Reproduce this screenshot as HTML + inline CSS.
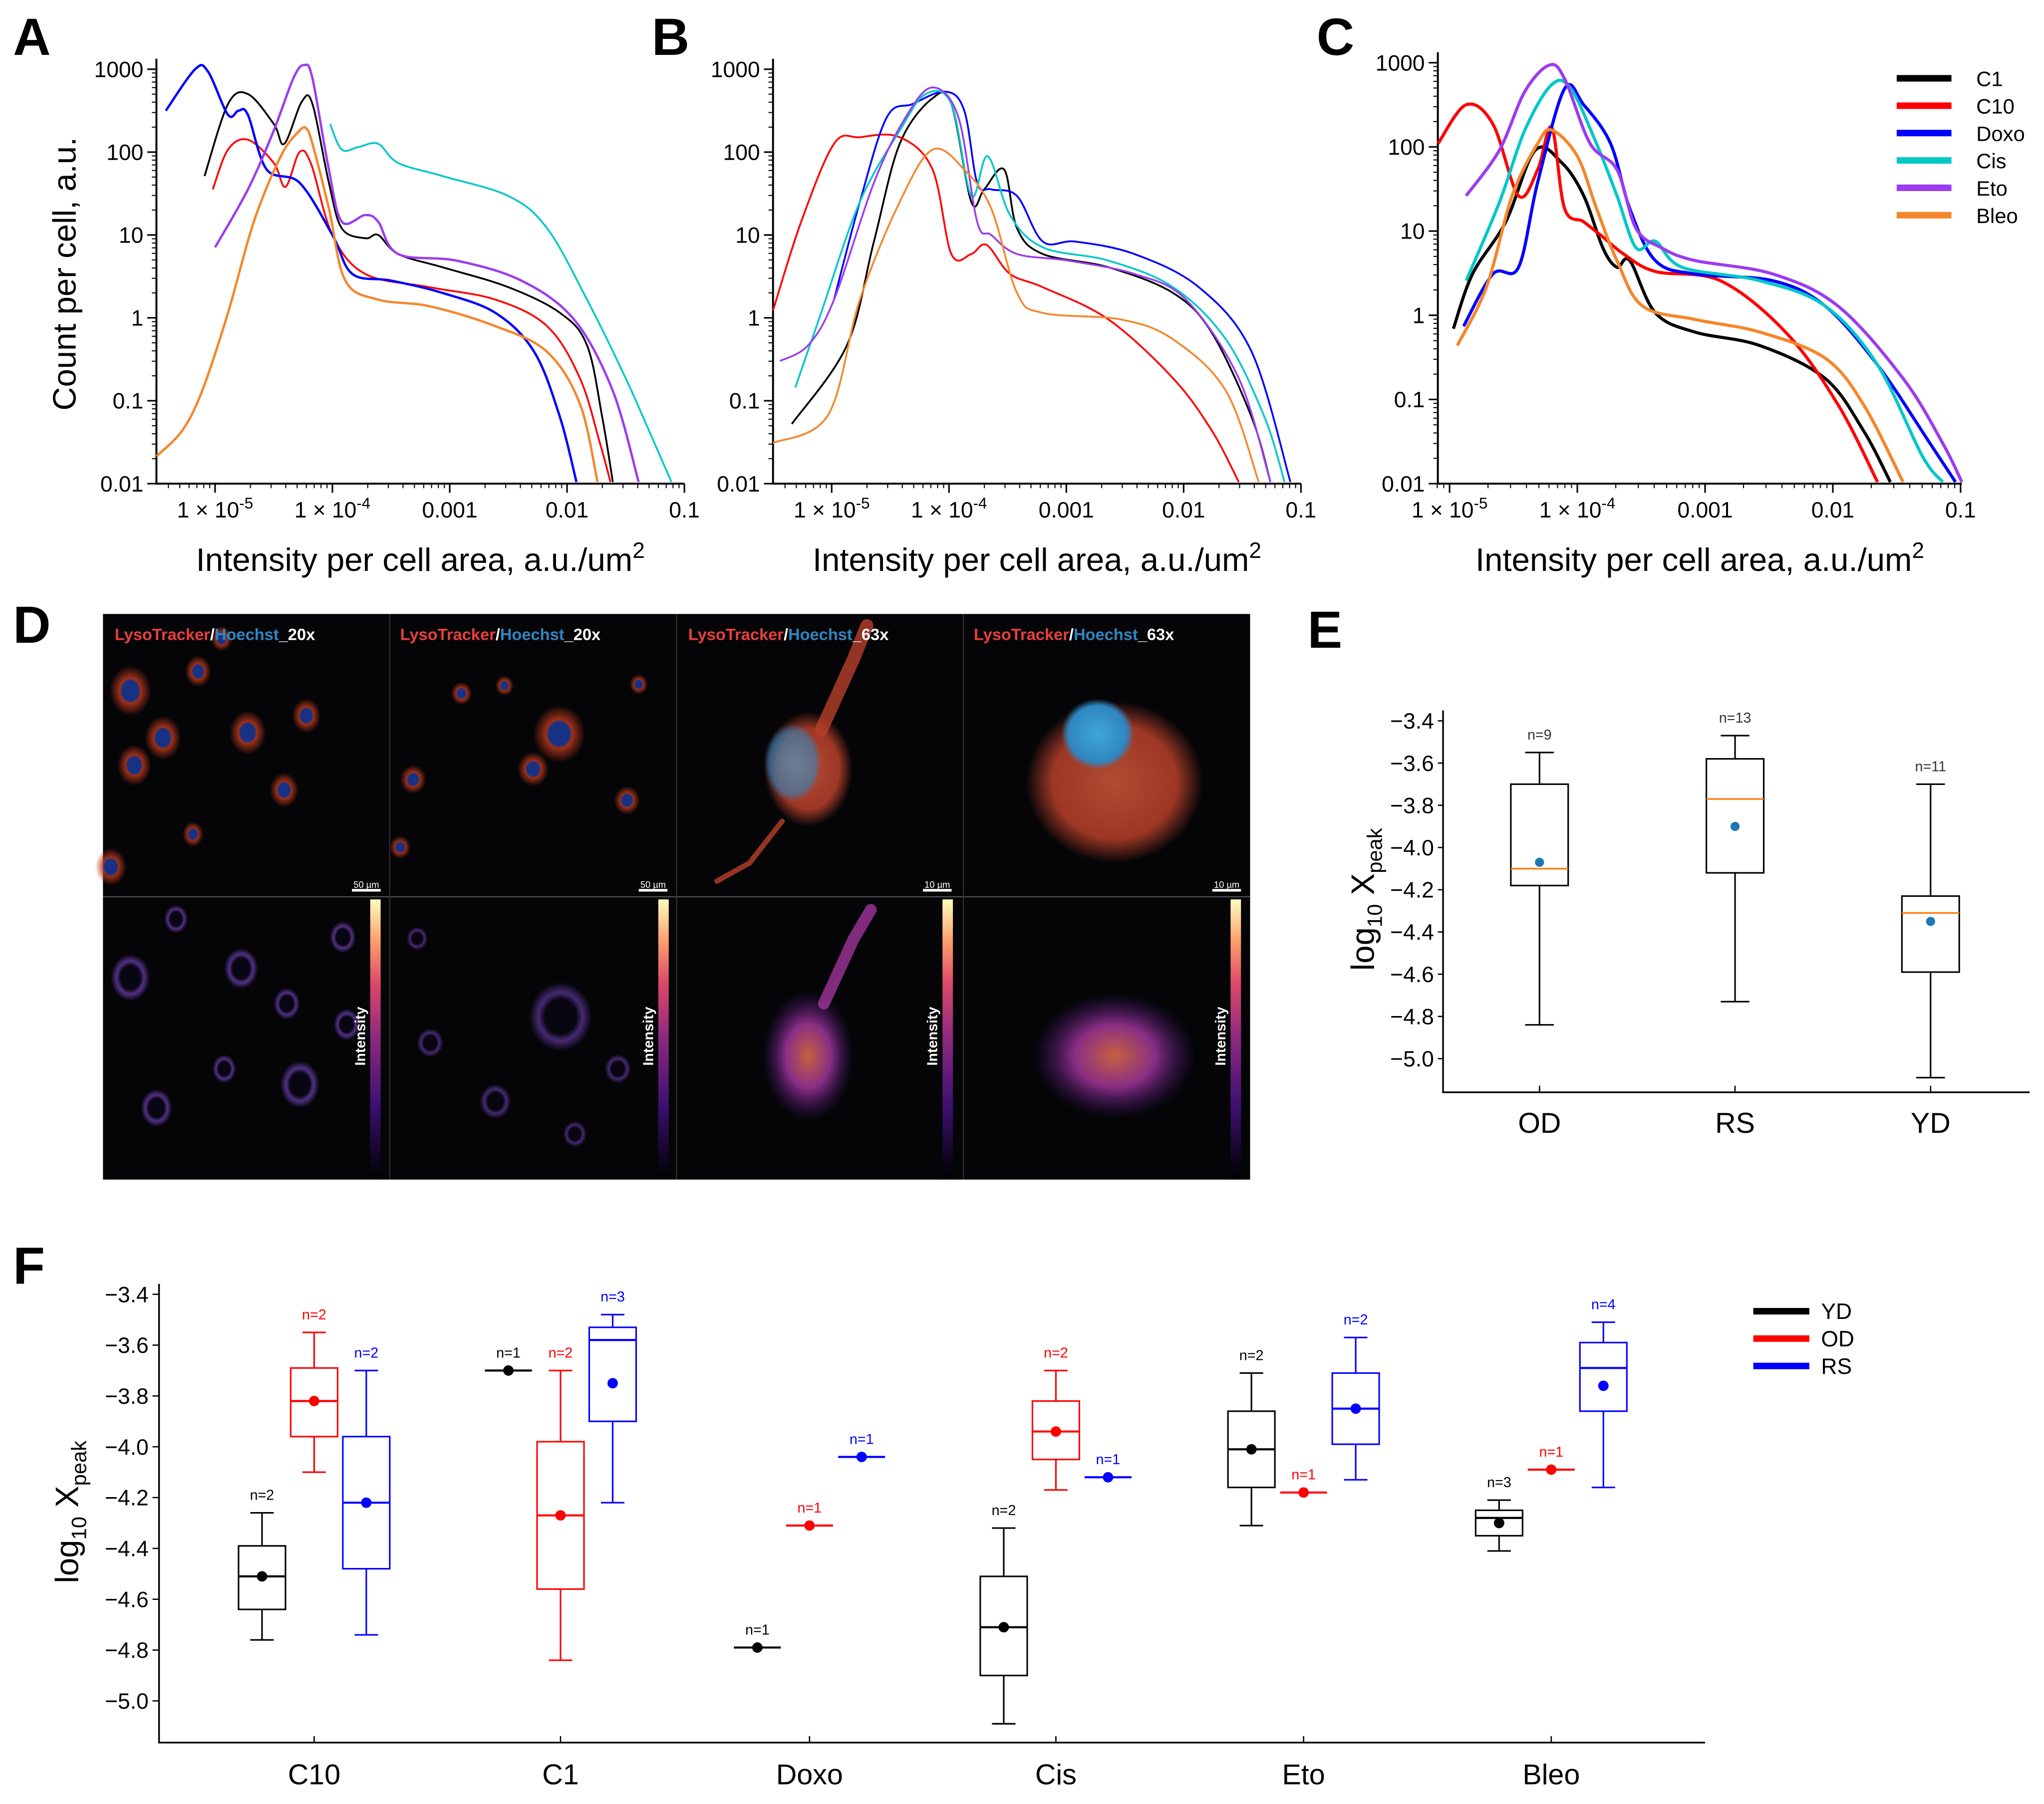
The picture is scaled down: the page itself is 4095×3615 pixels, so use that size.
<!DOCTYPE html>
<html><head><meta charset="utf-8">
<style>
html,body{margin:0;padding:0;background:#fff;}
svg{display:block;font-family:"Liberation Sans",Arial,sans-serif;}
.n{font-family:"Liberation Sans Narrow","Liberation Sans",sans-serif;}
</style></head>
<body>
<svg id="fig" xmlns="http://www.w3.org/2000/svg" width="4095" height="3615" viewBox="0 0 1568 1384">
<rect width="1568" height="1384" fill="#fff"/>
<defs>
<linearGradient id="cbar" x1="0" y1="1" x2="0" y2="0">
<stop offset="0" stop-color="#000004"/><stop offset="0.25" stop-color="#3b0f70"/><stop offset="0.5" stop-color="#8c2981"/><stop offset="0.7" stop-color="#de4968"/><stop offset="0.85" stop-color="#fe9f6d"/><stop offset="1" stop-color="#fcfdbf"/>
</linearGradient>
<radialGradient id="cellR" cx="0.5" cy="0.5" r="0.5"><stop offset="0.4" stop-color="#1a3a9a"/><stop offset="0.5" stop-color="#b8381c"/><stop offset="1" stop-color="#b8381c" stop-opacity="0"/></radialGradient>
<radialGradient id="cellP" cx="0.5" cy="0.5" r="0.5"><stop offset="0.5" stop-color="#0a0618"/><stop offset="0.7" stop-color="#7a48c8"/><stop offset="1" stop-color="#7a48c8" stop-opacity="0"/></radialGradient>
<radialGradient id="bigR" cx="0.5" cy="0.5" r="0.5"><stop offset="0" stop-color="#d0583a"/><stop offset="0.7" stop-color="#b8402a"/><stop offset="1" stop-color="#b8402a" stop-opacity="0"/></radialGradient>
<radialGradient id="nuc" cx="0.5" cy="0.5" r="0.5"><stop offset="0" stop-color="#3fa7d6"/><stop offset="0.8" stop-color="#2f86c0"/><stop offset="1" stop-color="#2f86c0" stop-opacity="0"/></radialGradient>
<radialGradient id="bigP" cx="0.5" cy="0.5" r="0.5"><stop offset="0" stop-color="#e8704a"/><stop offset="0.5" stop-color="#a0359a"/><stop offset="1" stop-color="#4a1880" stop-opacity="0"/></radialGradient>
</defs>
<g id="root"></g>
</svg>
<script>
// ---------- Panel A data (log10 x, log10 y) ----------
const A_C1_lx=[-5.09,-4.89,-4.72,-4.50,-4.41,-4.26,-4.17,-4.03,-3.92,-3.72,-3.61,-3.44,-3.06,-2.50,-2.06,-1.83,-1.70,-1.61];
const A_C1_ly=[1.71,2.58,2.70,2.34,2.10,2.61,2.58,1.63,1.08,0.96,1.00,0.77,0.61,0.37,0.06,-0.33,-1.20,-1.98];
const A_C10_lx=[-5.02,-4.89,-4.72,-4.50,-4.40,-4.28,-4.18,-4.00,-3.72,-3.17,-2.61,-2.17,-1.89,-1.72,-1.63];
const A_C10_ly=[1.55,2.03,2.15,1.87,1.58,2.00,1.85,1.00,0.53,0.37,0.22,-0.10,-0.73,-1.51,-1.98];
const A_Doxo_lx=[-5.42,-5.17,-5.06,-4.89,-4.80,-4.72,-4.56,-4.28,-4.00,-3.83,-3.50,-3.06,-2.61,-2.28,-2.06,-1.92];
const A_Doxo_ly=[2.50,3.00,2.97,2.45,2.50,2.45,1.79,1.63,1.00,0.53,0.45,0.30,0.06,-0.41,-1.20,-1.98];
const A_Cis_lx=[-4.02,-3.92,-3.78,-3.61,-3.44,-3.06,-2.50,-2.17,-1.83,-1.50,-1.28,-1.11];
const A_Cis_ly=[2.34,2.03,2.06,2.10,1.87,1.71,1.47,1.08,0.22,-0.73,-1.43,-1.98];
const A_Eto_lx=[-5.00,-4.72,-4.50,-4.33,-4.24,-4.17,-4.03,-3.92,-3.72,-3.61,-3.44,-2.94,-2.39,-1.94,-1.61,-1.39];
const A_Eto_ly=[0.85,1.55,2.26,2.90,3.05,2.89,1.79,1.16,1.24,1.16,0.77,0.69,0.45,-0.02,-0.88,-1.98];
const A_Bleo_lx=[-5.50,-5.28,-5.11,-4.89,-4.67,-4.44,-4.28,-4.22,-4.17,-4.03,-3.89,-3.61,-3.17,-2.61,-2.17,-1.89,-1.74];
const A_Bleo_ly=[-1.67,-1.36,-0.88,0.06,1.16,1.95,2.26,2.28,2.10,1.32,0.45,0.22,0.14,-0.10,-0.41,-1.04,-1.98];
// ---------- Panel B data ----------
const B_C1_lx=[-5.34,-4.87,-4.64,-4.42,-4.14,-3.98,-3.81,-3.70,-3.53,-3.42,-3.20,-2.64,-2.09,-1.76,-1.42,-1.26];
const B_C1_ly=[-1.28,-0.33,0.92,2.10,2.65,2.58,1.40,1.55,1.79,1.08,0.77,0.61,0.30,-0.18,-1.20,-1.98];
const B_C10_lx=[-5.50,-5.26,-4.98,-4.76,-4.42,-4.14,-3.98,-3.81,-3.68,-3.48,-3.20,-2.64,-2.09,-1.76,-1.53];
const B_C10_ly=[0.09,1.16,2.10,2.18,2.18,1.79,0.77,0.77,0.88,0.53,0.37,-0.02,-0.73,-1.36,-1.98];
const B_Doxo_lx=[-4.98,-4.76,-4.53,-4.31,-4.03,-3.87,-3.76,-3.64,-3.42,-3.20,-2.92,-2.42,-1.87,-1.42,-1.09];
const B_Doxo_ly=[0.22,1.40,2.42,2.58,2.73,2.50,1.63,1.55,1.47,0.92,0.92,0.77,0.37,-0.41,-1.98];
const B_Cis_lx=[-5.31,-5.09,-4.76,-4.42,-4.20,-3.98,-3.81,-3.67,-3.48,-3.20,-2.64,-2.09,-1.64,-1.31,-1.14];
const B_Cis_ly=[-0.84,0.06,1.40,2.26,2.70,2.58,1.47,1.95,1.24,0.85,0.69,0.37,-0.26,-1.20,-1.98];
const B_Eto_lx=[-5.44,-5.20,-4.98,-4.64,-4.37,-4.14,-3.92,-3.76,-3.64,-3.42,-2.98,-2.42,-1.98,-1.53,-1.26];
const B_Eto_ly=[-0.52,-0.33,0.22,1.63,2.42,2.78,2.42,1.16,1.00,0.77,0.69,0.53,0.22,-0.73,-1.98];
const B_Bleo_lx=[-5.50,-5.03,-4.76,-4.42,-4.14,-3.87,-3.64,-3.42,-3.20,-2.53,-2.09,-1.64,-1.36];
const B_Bleo_ly=[-1.51,-1.17,0.22,1.40,2.03,1.79,1.32,0.30,0.06,-0.02,-0.26,-0.88,-1.98];
// ---------- Panel C data ----------
const C_C1_lx=[-4.97,-4.82,-4.56,-4.33,-4.12,-3.95,-3.80,-3.69,-3.59,-3.39,-3.08,-2.57,-2.06,-1.76,-1.55];
const C_C1_ly=[-0.16,0.49,1.11,1.96,1.81,1.42,0.80,0.57,0.65,0.03,-0.20,-0.36,-0.75,-1.37,-1.98];
const C_C10_lx=[-5.09,-4.87,-4.66,-4.46,-4.31,-4.20,-4.10,-3.95,-3.80,-3.64,-3.39,-2.88,-2.37,-1.96,-1.65];
const C_C10_ly=[2.04,2.50,2.27,1.42,1.73,2.23,1.27,1.11,0.93,0.73,0.52,0.41,-0.20,-1.06,-1.98];
const C_Doxo_lx=[-4.89,-4.66,-4.46,-4.31,-4.10,-3.95,-3.74,-3.59,-3.39,-3.08,-2.47,-2.06,-1.65,-1.24,-1.04];
const C_Doxo_ly=[-0.13,0.49,0.57,1.58,2.69,2.50,2.04,1.27,0.65,0.49,0.41,0.11,-0.59,-1.52,-1.98];
const C_Cis_lx=[-4.87,-4.61,-4.41,-4.20,-4.05,-3.85,-3.69,-3.54,-3.39,-3.18,-2.57,-2.06,-1.65,-1.30,-1.14];
const C_Cis_ly=[0.41,1.34,2.20,2.74,2.69,2.04,1.42,0.80,0.88,0.57,0.41,0.11,-0.59,-1.67,-1.98];
const C_Eto_lx=[-4.87,-4.61,-4.41,-4.22,-4.10,-3.90,-3.69,-3.54,-3.34,-3.08,-2.47,-1.96,-1.45,-1.14,-0.99];
const C_Eto_ly=[1.42,1.96,2.66,2.97,2.81,2.04,1.73,1.03,0.80,0.65,0.49,0.11,-0.75,-1.52,-1.98];
const C_Bleo_lx=[-4.94,-4.71,-4.51,-4.31,-4.20,-4.00,-3.85,-3.69,-3.49,-3.08,-2.57,-2.06,-1.76,-1.45];
const C_Bleo_ly=[-0.36,0.34,1.42,2.04,2.20,1.89,1.27,0.65,0.11,-0.05,-0.20,-0.51,-1.06,-1.98];
const seriesNames=["C1","C10","Doxo","Cis","Eto","Bleo"];
const seriesColors=["#000000","#ff0000","#0000ff","#00c8c8","#9b3cf0","#f5862a"];
const yTickExp=[3,2,1,0,-1,-2];
const yTickLabels=["1000","100","10","1","0.1","0.01"];
const xTickExp=[-5,-4,-3,-2,-1];
// ---------- Panel E data ----------
const E_cats=["OD","RS","YD"];
const E_whiskTop=[-3.55,-3.47,-3.70];
const E_q3=[-3.70,-3.58,-4.23];
const E_median=[-4.10,-3.77,-4.31];
const E_mean=[-4.07,-3.90,-4.35];
const E_q1=[-4.18,-4.12,-4.59];
const E_whiskLow=[-4.84,-4.73,-5.09];
const E_n=["n=9","n=13","n=11"];
const E_ticks=[-3.4,-3.6,-3.8,-4.0,-4.2,-4.4,-4.6,-4.8,-5.0];
// ---------- Panel F data ----------
const F_cats=["C10","C1","Doxo","Cis","Eto","Bleo"];
const F_groups=["YD","OD","RS"];
const F_colors=["#000000","#ff0000","#0000ff"];
const F_YD_top=[-4.26,-3.70,-4.79,-4.32,-3.71,-4.21];
const F_YD_q3=[-4.39,-3.70,-4.79,-4.51,-3.86,-4.25];
const F_YD_med=[-4.51,-3.70,-4.79,-4.71,-4.01,-4.28];
const F_YD_mean=[-4.51,-3.70,-4.79,-4.71,-4.01,-4.30];
const F_YD_q1=[-4.64,-3.70,-4.79,-4.90,-4.16,-4.35];
const F_YD_low=[-4.76,-3.70,-4.79,-5.09,-4.31,-4.41];
const F_YD_n=[2,1,1,2,2,3];
const F_OD_top=[-3.55,-3.70,-4.31,-3.70,-4.18,-4.09];
const F_OD_q3=[-3.69,-3.98,-4.31,-3.82,-4.18,-4.09];
const F_OD_med=[-3.82,-4.27,-4.31,-3.94,-4.18,-4.09];
const F_OD_mean=[-3.82,-4.27,-4.31,-3.94,-4.18,-4.09];
const F_OD_q1=[-3.96,-4.56,-4.31,-4.05,-4.18,-4.09];
const F_OD_low=[-4.10,-4.84,-4.31,-4.17,-4.18,-4.09];
const F_OD_n=[2,2,1,2,1,1];
const F_RS_top=[-3.70,-3.48,-4.04,-4.12,-3.57,-3.51];
const F_RS_q3=[-3.96,-3.53,-4.04,-4.12,-3.71,-3.59];
const F_RS_med=[-4.22,-3.58,-4.04,-4.12,-3.85,-3.69];
const F_RS_mean=[-4.22,-3.75,-4.04,-4.12,-3.85,-3.76];
const F_RS_q1=[-4.48,-3.90,-4.04,-4.12,-3.99,-3.86];
const F_RS_low=[-4.74,-4.22,-4.04,-4.12,-4.13,-4.16];
const F_RS_n=[2,3,1,1,2,4];
const F_ticks=[-3.4,-3.6,-3.8,-4.0,-4.2,-4.4,-4.6,-4.8,-5.0];

const NS="http://www.w3.org/2000/svg";
const root=document.getElementById("root");
function el(tag,attrs,parent){const e=document.createElementNS(NS,tag);for(const k in attrs)e.setAttribute(k,attrs[k]);(parent||root).appendChild(e);return e;}
function txt(s,attrs,parent){const e=el("text",attrs,parent);e.textContent=s;return e;}
const fmt=v=>(v<0?"\u2212":"")+Math.abs(v).toFixed(1);
function smoothPath(P){
 let d="M"+P[0][0].toFixed(1)+","+P[0][1].toFixed(1);
 for(let i=0;i<P.length-1;i++){
  const p0=P[Math.max(0,i-1)],p1=P[i],p2=P[i+1],p3=P[Math.min(P.length-1,i+2)];
  const t=1/6;
  const c1=[p1[0]+(p2[0]-p0[0])*t,p1[1]+(p2[1]-p0[1])*t];
  const c2=[p2[0]-(p3[0]-p1[0])*t,p2[1]-(p3[1]-p1[1])*t];
  d+=`C${c1[0].toFixed(1)},${c1[1].toFixed(1)} ${c2[0].toFixed(1)},${c2[1].toFixed(1)} ${p2[0].toFixed(1)},${p2[1].toFixed(1)}`;
 }
 return d;
}

// ---------- log panels ----------
const panels=[
 {id:"a",letter:"A",lx:0,data:[[A_C1_lx,A_C1_ly],[A_C10_lx,A_C10_ly],[A_Doxo_lx,A_Doxo_ly],[A_Cis_lx,A_Cis_ly],[A_Eto_lx,A_Eto_ly],[A_Bleo_lx,A_Bleo_ly]],
  x0:120,x1:525,xRef:165,dec:90,yTop:53,dy:63.6,wid:[1.4,1.4,1.8,1.4,1.8,1.8]},
 {id:"b",letter:"B",lx:490,data:[[B_C1_lx,B_C1_ly],[B_C10_lx,B_C10_ly],[B_Doxo_lx,B_Doxo_ly],[B_Cis_lx,B_Cis_ly],[B_Eto_lx,B_Eto_ly],[B_Bleo_lx,B_Bleo_ly]],
  x0:593,x1:998,xRef:638,dec:90,yTop:53,dy:63.6,wid:[1.4,1.4,1.4,1.4,1.4,1.4]},
 {id:"c",letter:"C",lx:1000,data:[[C_C1_lx,C_C1_ly],[C_C10_lx,C_C10_ly],[C_Doxo_lx,C_Doxo_ly],[C_Cis_lx,C_Cis_ly],[C_Eto_lx,C_Eto_ly],[C_Bleo_lx,C_Bleo_ly]],
  x0:1103,x1:1505,xRef:1112,dec:98,yTop:48,dy:64.6,wid:[2.4,2.4,2.4,2.4,2.4,2.4]}
];
panels.forEach(p=>{
 const g=el("g",{});
 
 
 const X=lx=>p.xRef+(lx+5)*p.dec;
 const Y=ly=>p.yTop+(3-ly)*p.dy;
 const yB=Y(-2);
 const L=txt(p.letter,{x:p.lx+10,y:42,"font-size":40,"font-weight":"bold"},g);
 
 
 const ax=el("path",{d:`M${p.x0},${Y(3)-8}V${yB}H${p.x1}`,stroke:"#000","stroke-width":1.5,fill:"none"},g);
 
 
 yTickExp.forEach((e,i)=>{
  const t=el("line",{x1:p.x0-7,x2:p.x0,y1:Y(e),y2:Y(e),stroke:"#000","stroke-width":1.2},g);
  
  
  for(let m=2;m<10&&e>-2;m++){const mm=el("line",{x1:p.x0-3.5,x2:p.x0,y1:Y(e-1+Math.log10(m)),y2:Y(e-1+Math.log10(m)),stroke:"#000","stroke-width":0.8},g);
   
   }
  const l=txt(yTickLabels[i],{x:p.x0-10,y:Y(e)+6,"font-size":17,"text-anchor":"end"},g);
  
  
 });
 for(let e=-6;e<=-1;e++){
  for(let m=1;m<10;m++){const v=e+Math.log10(m);const xp=X(v);if(xp<p.x0-0.5||xp>p.x1+0.5)continue;
   const t=el("line",{x1:xp,x2:xp,y1:yB,y2:yB+(m==1?7:3.5),stroke:"#000","stroke-width":m==1?1.2:0.8},g);
   
   }
 }
 xTickExp.forEach(e=>{
  let t;
  if(e<=-4){t=txt("",{x:X(e),y:yB+26,"font-size":17,"text-anchor":"middle"},g);
   const a=el("tspan",{},t);a.textContent="1 \u00d7 10";const b=el("tspan",{dy:-7,"font-size":12},t);b.textContent=String(e);}
  else t=txt(["0.001","0.01","0.1"][e+3],{x:X(e),y:yB+26,"font-size":17,"text-anchor":"middle"},g);
  
  
 });
 const xt=txt("",{x:(p.x0+p.x1)/2,y:438,"font-size":25,"text-anchor":"middle"},g);
 const s1=el("tspan",{},xt);s1.textContent="Intensity per cell area, a.u./um";
 const s2=el("tspan",{dy:-10,"font-size":17},xt);s2.textContent="2";
 
 
 p.data.forEach((d,i)=>{
  const P=d[0].map((v,k)=>[X(v),Y(d[1][k])]);
  const pl=el("path",{d:smoothPath(P),fill:"none",stroke:seriesColors[i],"stroke-width":p.wid[i],"stroke-linejoin":"round"},g);
  
  
 });
});
const yt=txt("Count per cell, a.u.",{x:0,y:0,"font-size":25,"text-anchor":"middle",transform:"translate(58,210) rotate(-90)"});


seriesNames.forEach((s,i)=>{
 const y=60+i*21;
 const ln=el("line",{x1:1455,x2:1497,y1:y,y2:y,stroke:seriesColors[i],"stroke-width":5});
 
 
 const t=txt(s,{x:1516,y:y+6,"font-size":16});
 
 
});

// ---------- Panel D (microscopy montage) ----------
(function(){
 const g=el("g",{});
 
 
 const L=txt("D",{x:10,y:493,"font-size":40,"font-weight":"bold"});
 
 
 el("rect",{x:79,y:471,width:880,height:434,fill:"#050508"},g);
 const cells1=[[100,530,16],[125,566,14],[152,515,10],[190,562,14],[235,549,11],[218,606,11],[148,640,8],[103,587,13],[85,665,12],[170,490,8]];
 cells1.forEach(c=>el("ellipse",{cx:c[0],cy:c[1],rx:c[2],ry:c[2]*1.2,fill:"url(#cellR)",opacity:0.85},g));
 const cells2=[[429,563,20],[387,526,7],[354,532,8],[317,598,10],[409,590,12],[481,614,10],[490,525,7],[307,650,8]];
 cells2.forEach(c=>el("ellipse",{cx:c[0],cy:c[1],rx:c[2],ry:c[2]*1.1,fill:"url(#cellR)",opacity:0.85},g));
 el("ellipse",{cx:620,cy:590,rx:34,ry:44,fill:"url(#bigR)",opacity:0.85},g);
 el("path",{d:"M630,560 L655,505 L665,480",stroke:"#b8402a","stroke-width":10,fill:"none","stroke-linecap":"round",opacity:0.8},g);
 el("path",{d:"M600,630 L575,662 L550,676",stroke:"#b8402a","stroke-width":4,fill:"none","stroke-linecap":"round",opacity:0.8},g);
 el("ellipse",{cx:608,cy:585,rx:22,ry:30,fill:"url(#nuc)",opacity:0.6},g);
 el("ellipse",{cx:855,cy:600,rx:68,ry:62,fill:"url(#bigR)",opacity:0.85},g);
 el("ellipse",{cx:842,cy:563,rx:28,ry:27,fill:"url(#nuc)"},g);
 const cellsB1=[[100,750,15],[135,705,9],[185,743,13],[220,770,10],[263,719,10],[230,832,15],[120,850,12],[172,820,9],[266,786,10]];
 cellsB1.forEach(c=>el("ellipse",{cx:c[0],cy:c[1],rx:c[2],ry:c[2]*1.2,fill:"url(#cellP)",opacity:0.65},g));
 const cellsB2=[[430,780,24],[380,845,12],[330,800,10],[474,820,10],[441,870,9],[320,720,8]];
 cellsB2.forEach(c=>el("ellipse",{cx:c[0],cy:c[1],rx:c[2],ry:c[2]*1.1,fill:"url(#cellP)",opacity:0.55},g));
 el("ellipse",{cx:620,cy:810,rx:35,ry:50,fill:"url(#bigP)",opacity:0.85},g);
 el("path",{d:"M632,770 L655,720 L668,698",stroke:"#a0359a","stroke-width":9,fill:"none","stroke-linecap":"round",opacity:0.8},g);
 el("ellipse",{cx:855,cy:810,rx:62,ry:48,fill:"url(#bigP)",opacity:0.85},g);
 el("line",{x1:79,x2:959,y1:688,y2:688,stroke:"#555","stroke-width":0.8},g);
 [299,519,739].forEach(x=>el("line",{x1:x,x2:x,y1:471,y2:905,stroke:"#333","stroke-width":0.8},g));
 const labs=[["20x",88],["20x",307],["63x",528],["63x",747]];
 labs.forEach(l=>{
  const t=txt("",{x:l[1],y:491,"font-size":12.5,"font-weight":"bold"},g);
  const a=el("tspan",{fill:"#e8403a"},t);a.textContent="LysoTracker";
  const b=el("tspan",{fill:"#fff"},t);b.textContent="/";
  const c=el("tspan",{fill:"#2f86c0"},t);c.textContent="Hoechst";
  const d=el("tspan",{fill:"#fff"},t);d.textContent="_"+l[0];
  
  
 });
 const sb=[[270,"50 µm"],[490,"50 µm"],[708,"10 µm"],[930,"10 µm"]];
 sb.forEach(s=>{
  el("line",{x1:s[0],x2:s[0]+22,y1:683,y2:683,stroke:"#fff","stroke-width":2},g);
  const t=txt(s[1],{x:s[0]+11,y:681,"font-size":7,fill:"#fff","text-anchor":"middle"},g);
  
  
 });
 [284,505,723,944].forEach(x=>{
  const r=el("rect",{x:x,y:690,width:8,height:213,fill:"url(#cbar)"},g);
  
  
  const t=txt("Intensity",{x:0,y:0,"font-size":11,"font-weight":"bold",fill:"#fff","text-anchor":"middle",transform:`translate(${x-4},795) rotate(-90)`},g);
  
  
 });
})();

// ---------- Panel E ----------
(function(){
 const g=el("g",{});
 
 
 const L=txt("E",{x:1003,y:497,"font-size":40,"font-weight":"bold"});
 
 
 const Y=v=>553+(-3.4-v)/0.2*32.4;
 const xs=[1181,1331,1481];
 const ax=el("path",{d:"M1107,545V838H1557",stroke:"#000","stroke-width":1.3,fill:"none"},g);
 
 
 E_ticks.forEach(v=>{
  el("line",{x1:1103,x2:1107,y1:Y(v),y2:Y(v),stroke:"#000","stroke-width":1},g);
  const t=txt(fmt(v),{x:1100,y:Y(v)+6,"font-size":17,"text-anchor":"end","class":"n"},g);
  
  
 });
 const yt=txt("",{x:0,y:0,"font-size":25,"text-anchor":"middle",transform:"translate(1054,690) rotate(-90)"},g);
 const a=el("tspan",{},yt);a.textContent="log";
 const b=el("tspan",{"font-size":16,dy:6},yt);b.textContent="10";
 const c=el("tspan",{dy:-6},yt);c.textContent=" X";
 const d=el("tspan",{"font-size":16,dy:6},yt);d.textContent="peak";
 
 
 E_cats.forEach((cat,i)=>{
  const x=xs[i];
  const bg=el("g",{},g);
  
  
  el("line",{x1:x,x2:x,y1:Y(E_whiskTop[i]),y2:Y(E_q3[i]),stroke:"#000","stroke-width":1.2},bg);
  el("line",{x1:x,x2:x,y1:Y(E_q1[i]),y2:Y(E_whiskLow[i]),stroke:"#000","stroke-width":1.2},bg);
  el("line",{x1:x-11,x2:x+11,y1:Y(E_whiskTop[i]),y2:Y(E_whiskTop[i]),stroke:"#000","stroke-width":1.2},bg);
  el("line",{x1:x-11,x2:x+11,y1:Y(E_whiskLow[i]),y2:Y(E_whiskLow[i]),stroke:"#000","stroke-width":1.2},bg);
  el("rect",{x:x-22,y:Y(E_q3[i]),width:44,height:Y(E_q1[i])-Y(E_q3[i]),fill:"none",stroke:"#000","stroke-width":1.2},bg);
  el("line",{x1:x-22,x2:x+22,y1:Y(E_median[i]),y2:Y(E_median[i]),stroke:"#ff7f0e","stroke-width":1.3},bg);
  el("circle",{cx:x,cy:Y(E_mean[i]),r:3.5,fill:"#1f77b4"},bg);
  const n=txt(E_n[i],{x:x,y:Y(E_whiskTop[i])-10,"font-size":11,"text-anchor":"middle",fill:"#333","class":"n"},g);
  
  
  el("line",{x1:x,x2:x,y1:838,y2:833,stroke:"#000","stroke-width":1},g);
  const t=txt(cat,{x:x,y:869,"font-size":22,"text-anchor":"middle","class":"n"},g);
  
  
 });
})();

// ---------- Panel F ----------
(function(){
 const g=el("g",{});
 
 
 const L=txt("F",{x:10,y:985,"font-size":40,"font-weight":"bold"});
 
 
 const Y=v=>993+(-3.4-v)/0.2*39;
 const xc=[241,430,621,810,1000,1190];
 const off=[-40,0,40];
 const ax=el("path",{d:"M122,985V1337H1308",stroke:"#000","stroke-width":1.3,fill:"none"},g);
 
 
 F_ticks.forEach(v=>{
  el("line",{x1:117,x2:122,y1:Y(v),y2:Y(v),stroke:"#000","stroke-width":1},g);
  const t=txt(fmt(v),{x:114,y:Y(v)+6,"font-size":17,"text-anchor":"end","class":"n"},g);
  
  
 });
 const yt=txt("",{x:0,y:0,"font-size":25,"text-anchor":"middle",transform:"translate(60,1160) rotate(-90)"},g);
 const a=el("tspan",{},yt);a.textContent="log";
 const b=el("tspan",{"font-size":16,dy:6},yt);b.textContent="10";
 const c=el("tspan",{dy:-6},yt);c.textContent=" X";
 const d=el("tspan",{"font-size":16,dy:6},yt);d.textContent="peak";
 
 
 const sets=[[F_YD_top,F_YD_q3,F_YD_med,F_YD_mean,F_YD_q1,F_YD_low,F_YD_n],[F_OD_top,F_OD_q3,F_OD_med,F_OD_mean,F_OD_q1,F_OD_low,F_OD_n],[F_RS_top,F_RS_q3,F_RS_med,F_RS_mean,F_RS_q1,F_RS_low,F_RS_n]];
 F_cats.forEach((cat,i)=>{
  sets.forEach((s,j)=>{
   const x=xc[i]+off[j],col=F_colors[j];
   const bg=el("g",{},g);
   
   
   if(s[6][i]>1){
    el("line",{x1:x,x2:x,y1:Y(s[0][i]),y2:Y(s[1][i]),stroke:col,"stroke-width":1.2},bg);
    el("line",{x1:x,x2:x,y1:Y(s[4][i]),y2:Y(s[5][i]),stroke:col,"stroke-width":1.2},bg);
    el("line",{x1:x-9,x2:x+9,y1:Y(s[0][i]),y2:Y(s[0][i]),stroke:col,"stroke-width":1.2},bg);
    el("line",{x1:x-9,x2:x+9,y1:Y(s[5][i]),y2:Y(s[5][i]),stroke:col,"stroke-width":1.2},bg);
    el("rect",{x:x-18,y:Y(s[1][i]),width:36,height:Math.max(1,Y(s[4][i])-Y(s[1][i])),fill:"none",stroke:col,"stroke-width":1.2},bg);
   }
   el("line",{x1:x-18,x2:x+18,y1:Y(s[2][i]),y2:Y(s[2][i]),stroke:col,"stroke-width":1.6},bg);
   el("circle",{cx:x,cy:Y(s[3][i]),r:4,fill:col},bg);
   const n=txt("n="+s[6][i],{x:x,y:Y(s[0][i])-10,"font-size":11,"text-anchor":"middle",fill:col,"class":"n"},g);
   
   
  });
  el("line",{x1:xc[i],x2:xc[i],y1:1337,y2:1332,stroke:"#000","stroke-width":1},g);
  const t=txt(cat,{x:xc[i],y:1369,"font-size":22,"text-anchor":"middle","class":"n"},g);
  
  
 });
 F_groups.forEach((s,j)=>{
  const y=1006+j*21;
  const ln=el("line",{x1:1345,x2:1388,y1:y,y2:y,stroke:F_colors[j],"stroke-width":5},g);
  
  
  const t=txt(s,{x:1397,y:y+6,"font-size":17},g);
  
  
 });
})();
</script>
</body></html>
